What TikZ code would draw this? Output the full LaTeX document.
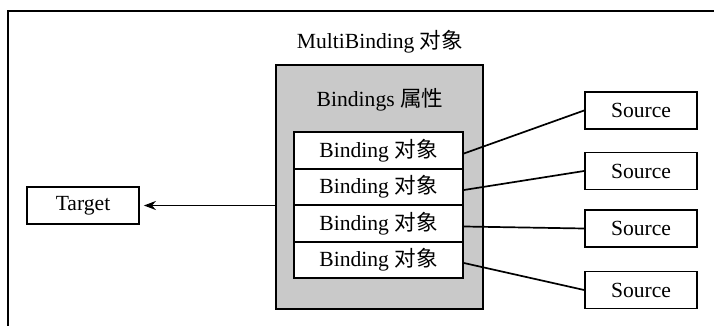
\documentclass[tikz,border=0pt]{standalone}
\usepackage{fontspec}
\setmainfont{Liberation Serif}
\newfontfamily\cjk{Noto Sans CJK SC}
\usetikzlibrary{arrows.meta,positioning}

\begin{document}
\begin{tikzpicture}[x=0.5pt,y=-0.5pt,font=\fontsize{10.8pt}{13pt}\selectfont,
    box/.style={draw, rectangle, line width=0.9pt, minimum width=56pt, minimum height=18.5pt, inner sep=0pt, fill=white},
    bind/.style={draw, rectangle, line width=0.9pt, minimum width=84.5pt, minimum height=18.25pt, inner sep=0pt, fill=white},
    link/.style={line width=0.85pt}]
  \useasboundingbox (0,0) rectangle (714,326);
  \clip (0,0) rectangle (714,326);
  % outer frame (runs off the page at right and bottom)
  \draw[line width=0.9pt] (8,11) rectangle (730,340);
  \node (title) at (380,42) {MultiBinding {\cjk 对象}};
  \node[draw, rectangle, line width=0.9pt, minimum width=103.5pt, minimum height=122pt, fill=black!21] (multi) at (379.5,187) {};
  \node (prop) at (380,100) {Bindings {\cjk 属性}};
  \foreach \i in {1,...,4}
    \node[bind] (b\i) at (378.5,114+36.5*\i) {Binding {\cjk 对象}};
  \foreach \i/\y in {1/110.5,2/171,3/228.5,4/290}
    \node[box] (s\i) at (641,\y) {Source};
  \node[box] (target) at (83,205.5) {Target};
  % connectors
  \foreach \i in {1,...,4}
    \draw[link] ([yshift=-1.5pt]b\i.east) -- (s\i.west);
  \draw[link, -{Stealth[length=6pt,width=4.5pt]}, shorten >=2pt] (multi.west |- target.east) -- (target.east);
\end{tikzpicture}
\end{document}
